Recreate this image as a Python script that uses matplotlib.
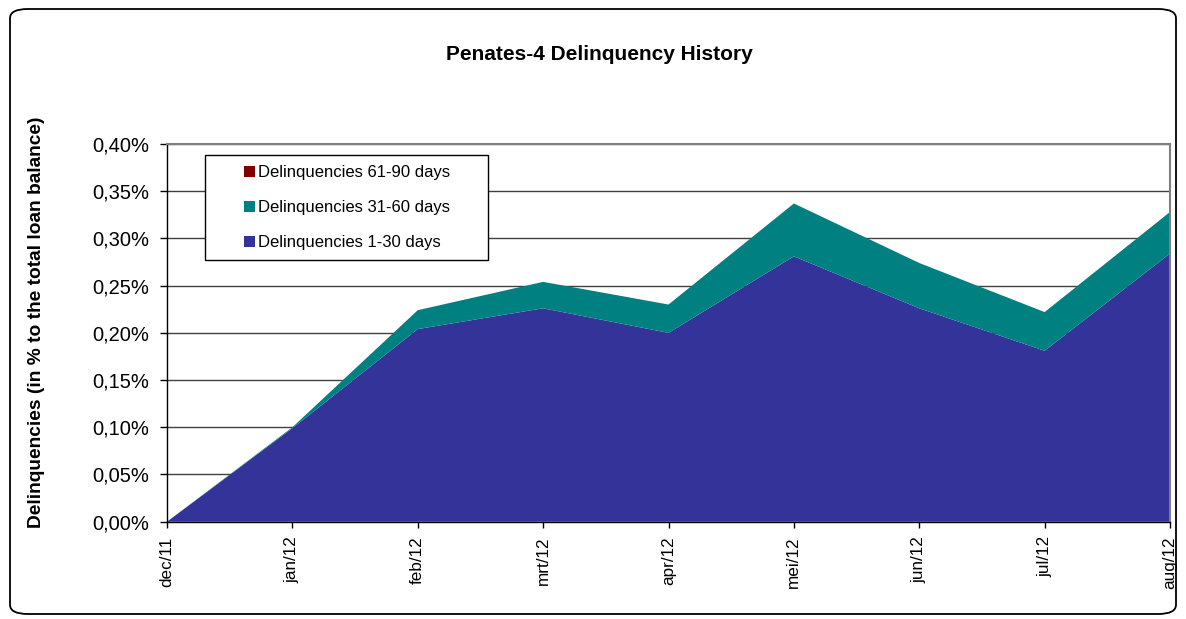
import matplotlib
matplotlib.use("Agg")
import matplotlib.pyplot as plt
from matplotlib.patches import FancyBboxPatch, Patch, Rectangle
from matplotlib.ticker import FuncFormatter

plt.rcParams['font.family'] = ['Liberation Sans', 'DejaVu Sans']

# data (in %)
months = ['dec/11', 'jan/12', 'feb/12', 'mrt/12', 'apr/12', 'mei/12', 'jun/12', 'jul/12', 'aug/12']
d1_30 = [0.0, 0.099, 0.204, 0.226, 0.200, 0.281, 0.226, 0.181, 0.284]
d31_60 = [0.0, 0.001, 0.020, 0.028, 0.030, 0.056, 0.048, 0.041, 0.044]
d61_90 = [0.0, 0.0, 0.0, 0.0, 0.0, 0.0, 0.0, 0.0, 0.0]

c1 = '#333399'
c2 = '#008080'
c3 = '#800000'

W, H = 1186, 619
fig = plt.figure(figsize=(W / 100, H / 100), dpi=100)

# rounded outer border
border = FancyBboxPatch((10 / W, 5 / H), 1166 / W, 605 / H,
                        boxstyle="round,pad=0,rounding_size=0.015",
                        transform=fig.transFigure, fill=False,
                        edgecolor='black', linewidth=1.3)
fig.patches.append(border)

ax = fig.add_axes([167 / W, 1 - 521.7 / H, (1170 - 167) / W, (521.7 - 144) / H])

x = list(range(len(months)))
ax.stackplot(x, d1_30, d31_60, d61_90, colors=[c1, c2, c3], linewidth=0)

ax.set_xlim(0, len(months) - 1)
ax.set_ylim(0, 0.40)
ax.set_yticks([i * 0.05 for i in range(9)])
ax.yaxis.set_major_formatter(FuncFormatter(lambda v, p: ('%.2f%%' % v).replace('.', ',')))
ax.set_xticks(x)
ax.set_xticklabels(months, rotation=90, fontsize=12.3)
ax.tick_params(axis='y', labelsize=14.5, direction='out', length=5, width=1, pad=8)
ax.tick_params(axis='x', direction='out', length=4.5, width=1, pad=6)

ax.grid(axis='y', color='#404040', linewidth=1)
ax.set_axisbelow(True)
for s in ['top', 'right']:
    ax.spines[s].set_color('#808080')
    ax.spines[s].set_linewidth(1.5)
for s in ['left', 'bottom']:
    ax.spines[s].set_color('black')
    ax.spines[s].set_linewidth(1)

ax.set_ylabel('Delinquencies (in % to the total loan balance)', fontsize=13.8,
              fontweight='bold')
ax.yaxis.set_label_coords((45 - 167) / 1003, 0.527)

fig.text(599 / W, 1 - 55 / H, 'Penates-4 Delinquency History', ha='center', va='center',
         fontsize=15, fontweight='bold')

# legend box
fig.patches.append(Rectangle((205 / W, 1 - 260 / H), (488 - 205) / W, (260 - 155) / H,
                             transform=fig.transFigure, facecolor='white',
                             edgecolor='black', linewidth=1, zorder=5))
handles = [Patch(facecolor=c3, edgecolor='none', label='Delinquencies 61-90 days'),
           Patch(facecolor=c2, edgecolor='none', label='Delinquencies 31-60 days'),
           Patch(facecolor=c1, edgecolor='none', label='Delinquencies 1-30 days')]
leg = fig.legend(handles=handles, loc='upper left',
                 bbox_to_anchor=(244 / W, 1 - 165 / H), bbox_transform=fig.transFigure,
                 fontsize=12, frameon=False,
                 handlelength=0.66, handleheight=0.66, handletextpad=0.2,
                 labelspacing=1.2, borderaxespad=0, borderpad=0)
leg.set_zorder(6)

fig.savefig('out.png', dpi=100)
